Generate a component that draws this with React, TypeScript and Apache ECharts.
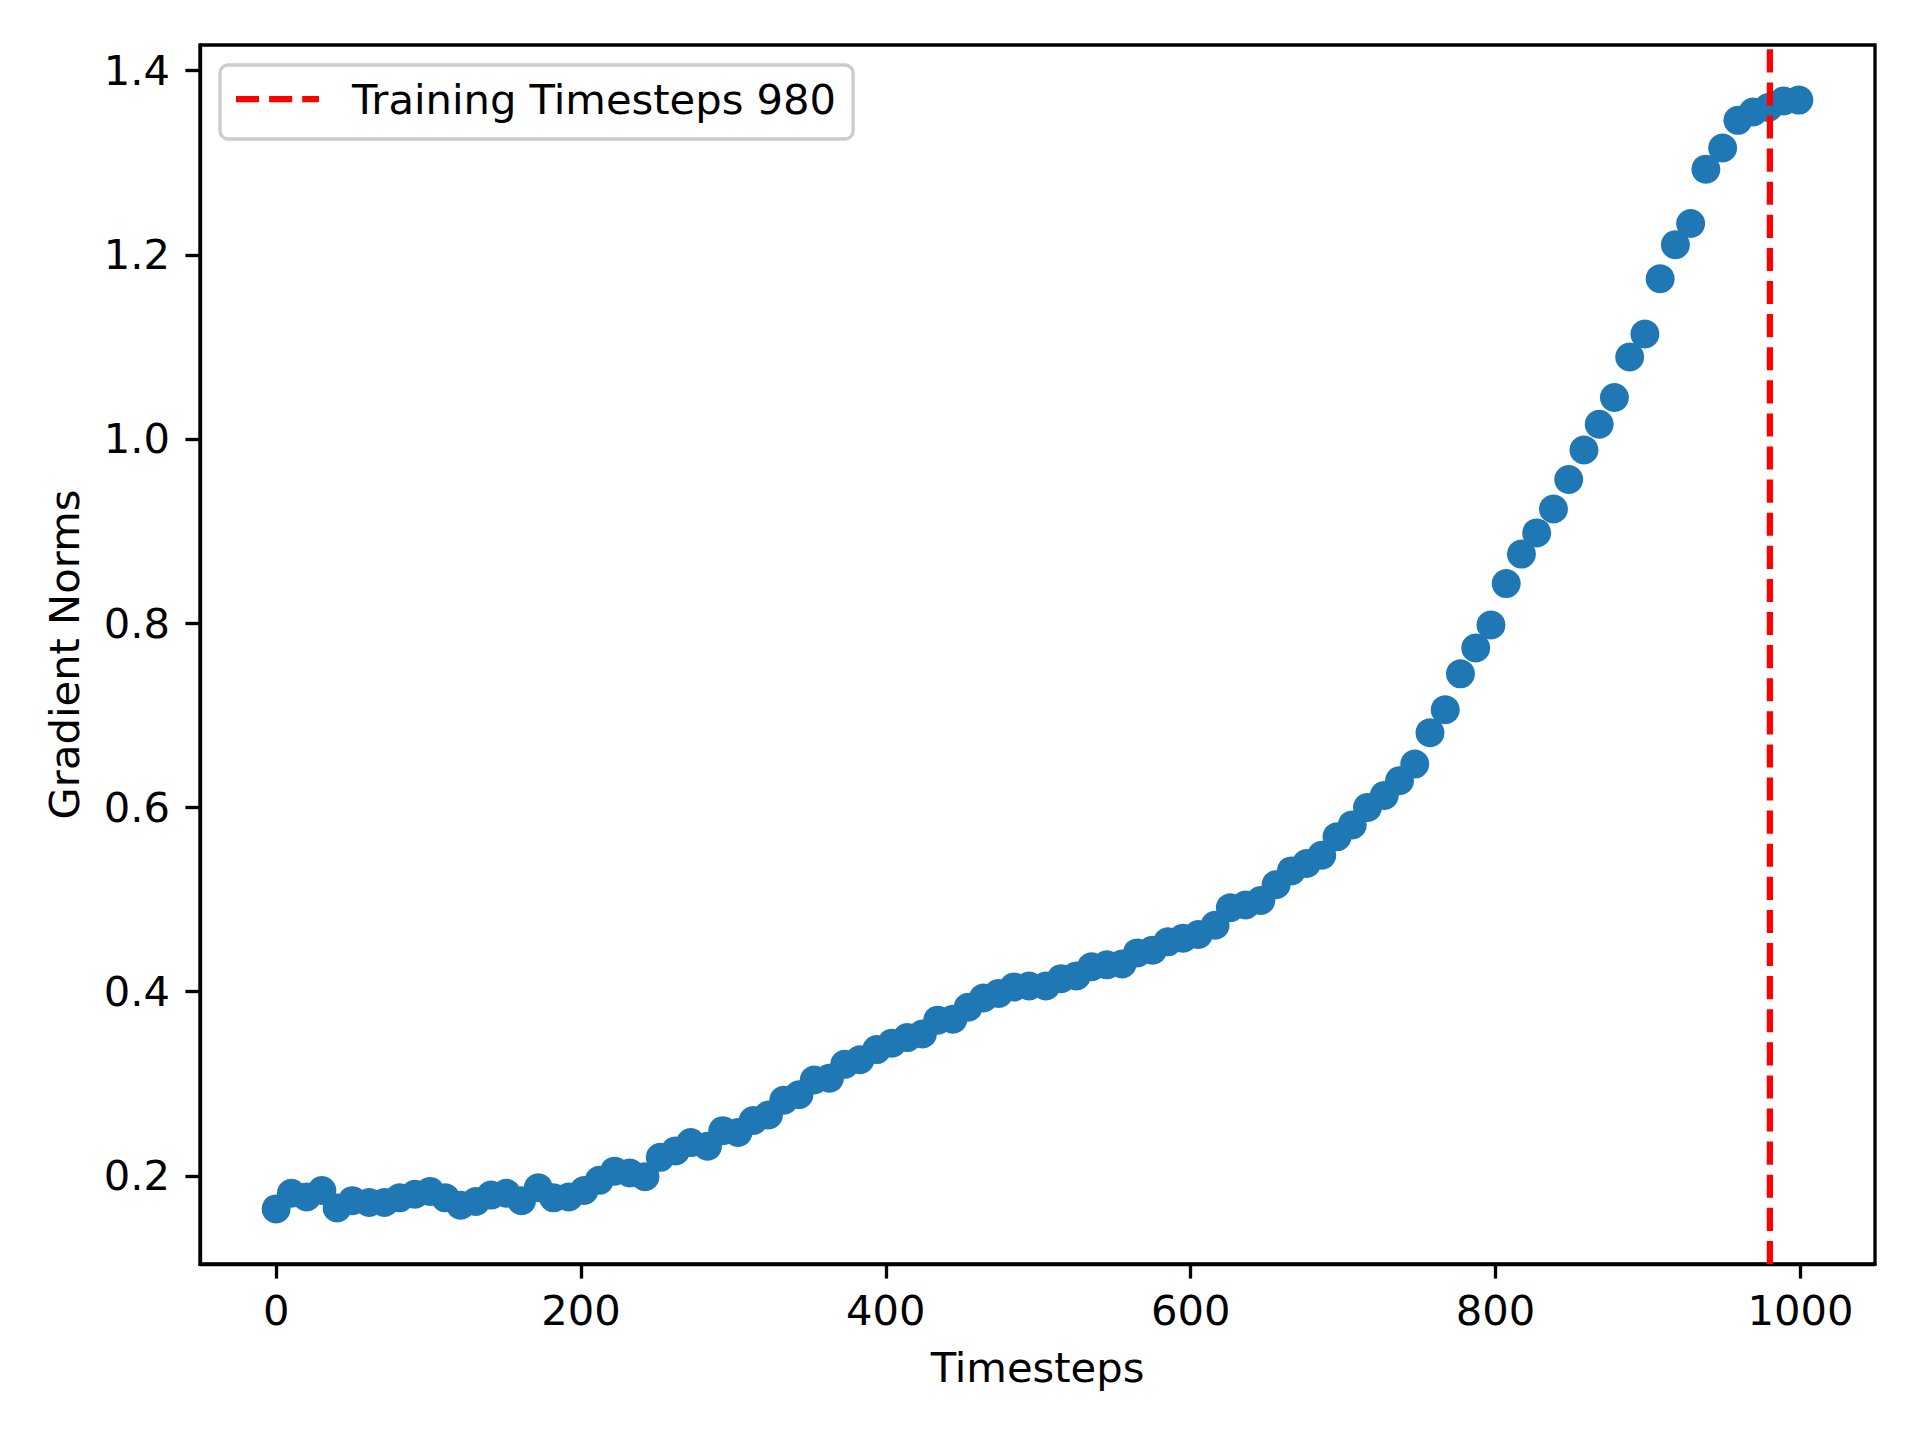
import React, { useEffect, useRef } from "react";
import * as echarts from "echarts";

const timesteps = [
  0, 10, 20, 30, 40, 50, 61, 71, 81, 91, 101, 111, 121, 131, 141, 151, 161, 172, 182, 192,
  202, 212, 222, 232, 242, 252, 262, 272, 283, 293, 303, 313, 323, 333, 343, 353, 363, 373, 383, 394,
  404, 414, 424, 434, 444, 454, 464, 474, 484, 494, 505, 515, 525, 535, 545, 555, 565, 575, 585, 595,
  605, 616, 626, 636, 646, 656, 666, 676, 686, 696, 706, 716, 727, 737, 747, 757, 767, 777, 787, 797,
  807, 817, 827, 838, 848, 858, 868, 878, 888, 898, 908, 918, 928, 938, 949, 959, 969, 979, 989, 999,
];

const gradientNorms = [
  0.164, 0.181, 0.177, 0.184, 0.165, 0.173, 0.171, 0.171, 0.176, 0.180,
  0.183, 0.176, 0.168, 0.172, 0.179, 0.181, 0.173, 0.187, 0.176, 0.177,
  0.184, 0.195, 0.205, 0.203, 0.199, 0.220, 0.227, 0.236, 0.232, 0.249,
  0.247, 0.260, 0.266, 0.282, 0.288, 0.304, 0.306, 0.321, 0.326, 0.337,
  0.344, 0.350, 0.354, 0.369, 0.370, 0.383, 0.393, 0.398, 0.405, 0.406,
  0.406, 0.414, 0.417, 0.427, 0.429, 0.430, 0.442, 0.445, 0.454, 0.458,
  0.462, 0.472, 0.491, 0.494, 0.499, 0.516, 0.531, 0.539, 0.548, 0.568,
  0.581, 0.600, 0.613, 0.629, 0.647, 0.681, 0.706, 0.745, 0.773, 0.798,
  0.843, 0.875, 0.898, 0.924, 0.956, 0.988, 1.016, 1.045, 1.089, 1.114,
  1.174, 1.211, 1.234, 1.293, 1.316, 1.346, 1.355, 1.360, 1.367, 1.368,
];

const xTickValues = [0, 200, 400, 600, 800, 1000];
const yTickValues = [0.2, 0.4, 0.6, 0.8, 1.0, 1.2, 1.4];

const trainingTimestep = 980;
const legendLabel = "Training Timesteps 980";
const xTitle = "Timesteps";
const yTitle = "Gradient Norms";

const xMin = -49.95;
const xMax = 1048.95;
const yMin = 0.1042;
const yMax = 1.4278;

const FONT = "DejaVu Sans";
const FS = 41.67;
const LW = 3.33;

// dashed legend handle: three dashes (23.1 on, 10 off) across 83px, 6.25px thick
const dashIcon =
  "path://M0,0H23.1V6.25H0Z M33.1,0H56.2V6.25H33.1Z M66.2,0H83V6.25H66.2Z";

export default function App() {
  const ref = useRef<HTMLDivElement>(null);

  useEffect(() => {
    if (!ref.current) return;
    const chart = echarts.init(ref.current, undefined, { renderer: "svg" });
    const option: any = {
      animation: false,
      backgroundColor: "#ffffff",
      textStyle: { fontFamily: FONT, color: "#000000" },
      grid: {
        left: 200,
        top: 45,
        width: 1675,
        height: 1219,
        show: true,
        borderColor: "#000000",
        borderWidth: LW,
        backgroundColor: "transparent",
        containLabel: false,
      },
      legend: {
        left: 220,
        top: 65,
        orient: "vertical",
        padding: [13, 17, 19, 16],
        itemWidth: 83,
        itemHeight: 6.25,
        backgroundColor: "rgba(255,255,255,0.8)",
        borderColor: "#cccccc",
        borderWidth: LW,
        borderRadius: 8,
        textStyle: {
          fontFamily: FONT,
          fontSize: FS,
          color: "#000000",
          padding: [0, 0, 0, 28],
        },
        data: [{ name: legendLabel, icon: dashIcon }],
      },
      xAxis: {
        type: "value",
        min: xMin,
        max: xMax,
        name: xTitle,
        nameLocation: "middle",
        nameGap: 82,
        nameTextStyle: { fontFamily: FONT, fontSize: FS, color: "#000000" },
        axisLine: { show: true, onZero: false, lineStyle: { color: "#000000", width: LW } },
        axisTick: {
          show: true,
          length: 14.6,
          inside: false,
          customValues: xTickValues,
          lineStyle: { color: "#000000", width: LW },
        },
        axisLabel: {
          show: true,
          margin: 25,
          customValues: xTickValues,
          fontFamily: FONT,
          fontSize: FS,
          color: "#000000",
          formatter: (v: number) => String(Math.round(v)),
        },
        splitLine: { show: false },
      },
      yAxis: {
        type: "value",
        min: yMin,
        max: yMax,
        name: yTitle,
        nameLocation: "middle",
        nameRotate: 90,
        nameGap: 115,
        nameTextStyle: { fontFamily: FONT, fontSize: FS, color: "#000000" },
        axisLine: { show: true, onZero: false, lineStyle: { color: "#000000", width: LW } },
        axisTick: {
          show: true,
          length: 14.6,
          inside: false,
          customValues: yTickValues,
          lineStyle: { color: "#000000", width: LW },
        },
        axisLabel: {
          show: true,
          margin: 30,
          customValues: yTickValues,
          fontFamily: FONT,
          fontSize: FS,
          color: "#000000",
          formatter: (v: number) => v.toFixed(1),
        },
        splitLine: { show: false },
      },
      series: [
        {
          name: "Gradient Norms",
          type: "scatter",
          data: timesteps.map((t, i) => [t, gradientNorms[i]]),
          symbol: "circle",
          symbolSize: 29,
          itemStyle: { color: "#1f77b4", opacity: 1 },
          z: 2,
        },
        {
          name: legendLabel,
          type: "line",
          data: [
            [trainingTimestep, yMin],
            [trainingTimestep, yMax],
          ],
          symbol: "none",
          showSymbol: false,
          lineStyle: { color: "#ff0000", width: 6.25, type: [23.1, 10] },
          itemStyle: { color: "#ff0000" },
          z: 3,
        },
      ],
    };
    chart.setOption(option);
    return () => chart.dispose();
  }, []);

  return (
    <div
      ref={ref}
      style={{ position: "fixed", left: 0, top: 0, width: 1920, height: 1440, background: "#ffffff" }}
    />
  );
}
